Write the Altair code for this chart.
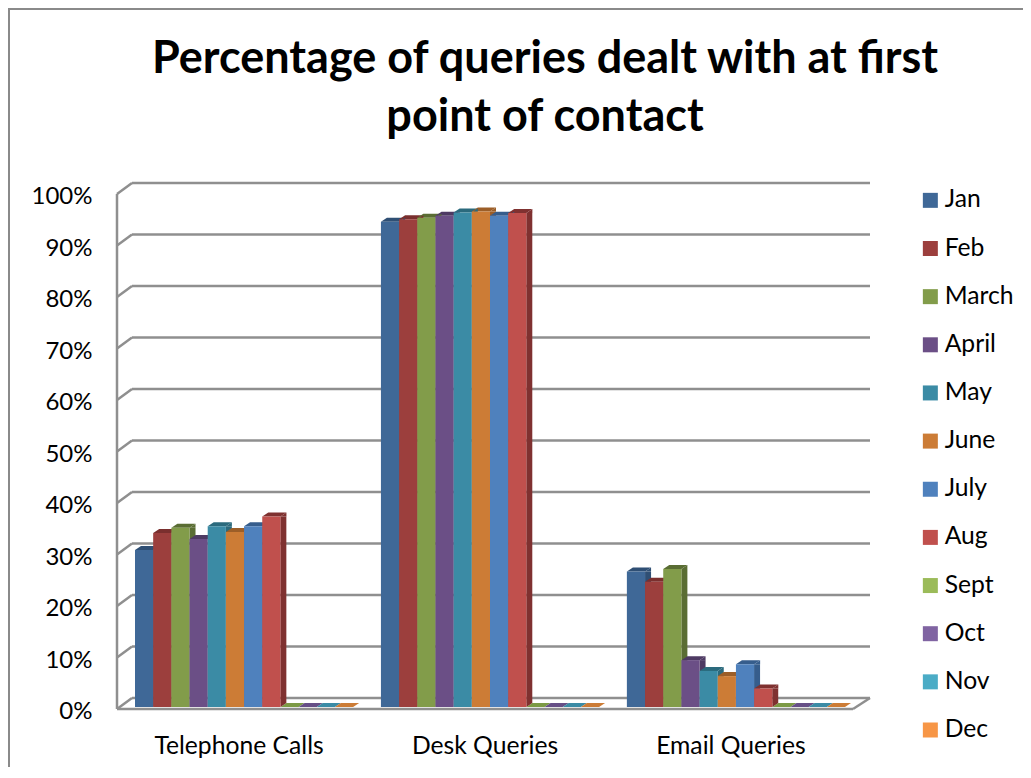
import altair as alt
import pandas as pd

categories = ["Telephone Calls", "Desk Queries", "Email Queries"]
months = ["Jan", "Feb", "March", "April", "May", "June", "July", "Aug", "Sept", "Oct", "Nov", "Dec"]
telephone = [0.305, 0.338, 0.348, 0.326, 0.351, 0.340, 0.351, 0.370, 0, 0, 0, 0]
desk = [0.942, 0.947, 0.950, 0.954, 0.960, 0.962, 0.954, 0.959, 0, 0, 0, 0]
email = [0.263, 0.243, 0.268, 0.091, 0.070, 0.060, 0.083, 0.036, 0, 0, 0, 0]
front_colors = ["#3f6897", "#9c3f3d", "#829c4a", "#6b4f86", "#3b8ba5", "#cc7c36",
                "#4f81bd", "#c0504d", "#9bbb59", "#8064a2", "#4bacc6", "#f79646"]
dark_colors = ["#2f4f74", "#7a2f2e", "#5a6d33", "#4e3a63", "#2b6a7d", "#9c5e28",
               "#365d8c", "#7f3130", "#7c9a45", "#664f86", "#3b8ba5", "#cc7c36"]
ticks = [i / 10 for i in range(11)]

rows = []
for cat, series in zip(categories, [telephone, desk, email]):
    for m, v in zip(months, series):
        rows.append({"category": cat, "month": m, "value": v, "zero": 0.0})
df = pd.DataFrame(rows)
tick_df = pd.DataFrame({"t": ticks})
floor_df = pd.DataFrame({"t": [0.0]})
wall_df = pd.DataFrame({"t": [1.0], "b": [0.0]})

GRID = "#8f8f8f"
FONT = "Lato"
W, H = 746, 515

yscale = alt.Scale(domain=[0, 1], nice=False)
yaxis = alt.Axis(format=".0%", values=ticks, grid=False, domain=False, ticks=False,
                 labelFontSize=24, labelFont=FONT, labelColor="#000000",
                 labelPadding=25, labelOffset=4.5)
y_plain = alt.Y("t:Q", scale=yscale, axis=yaxis, title=None)
x = alt.X("category:N", sort=categories, title=None,
          scale=alt.Scale(paddingInner=0.1131, paddingOuter=0.0732),
          axis=alt.Axis(labelAngle=0, domain=False, ticks=False, labelFontSize=24.7, labelFont=FONT,
                        labelColor="#000000", labelPadding=26, labelOffset=-5))
xo = alt.XOffset("month:N", scale=alt.Scale(type="band", domain=months, paddingInner=0, paddingOuter=0))
xo_side = alt.XOffset("month:N",
                      scale=alt.Scale(type="band", domain=months, paddingInner=0, paddingOuter=0, range=[12.1, 230.1]))
y = alt.Y("value:Q", scale=yscale, title=None, axis=yaxis)
c_dark = alt.Color("month:N", legend=None,
                   scale=alt.Scale(domain=months, range=dark_colors))
c_front = alt.Color("month:N", title=None,
                    scale=alt.Scale(domain=months, range=front_colors),
                    legend=alt.Legend(orient="none", legendX=801, legendY=-4, symbolType="square",
                                      symbolSize=225, symbolStrokeWidth=0, labelFontSize=24.7,
                                      labelFont=FONT, labelColor="#000000", labelOffset=2,
                                      rowPadding=22.15, padding=0))

back = alt.Chart(tick_df).mark_rule(color=GRID, strokeWidth=2.5, yOffset=-9).encode(
    y=y_plain, x=alt.value(15), x2=alt.value(753))
diag = alt.Chart(tick_df).mark_rule(color=GRID, strokeWidth=2.5, yOffset=2, y2Offset=-9).encode(
    y=y_plain, y2=alt.Y2("t:Q"), x=alt.value(0), x2=alt.value(15))
floor = alt.Chart(floor_df).mark_rule(color=GRID, strokeWidth=2.5, yOffset=2).encode(
    y=y_plain, x=alt.value(0), x2=alt.value(736))
floor_r = alt.Chart(floor_df).mark_rule(color=GRID, strokeWidth=2.5, yOffset=2, y2Offset=-9).encode(
    y=y_plain, y2=alt.Y2("t:Q"), x=alt.value(736), x2=alt.value(753))
wall = alt.Chart(wall_df).mark_rule(color=GRID, strokeWidth=2.5, yOffset=2, y2Offset=2).encode(
    y=y_plain, y2=alt.Y2("b:Q"), x=alt.value(0))
frame_t = alt.Chart(floor_df).mark_rule(color="#8a8a8a", strokeWidth=2).encode(
    y=alt.value(-183), x=alt.value(-109), x2=alt.value(906))
frame_l = alt.Chart(floor_df).mark_rule(color="#8a8a8a", strokeWidth=2).encode(
    x=alt.value(-108), y=alt.value(-184), y2=alt.value(590))

nonzero = df[df["value"] > 0]
side = alt.Chart(nonzero).mark_bar(width=6, y2Offset=-4).encode(
    x=x, xOffset=xo_side, y=y, y2=alt.Y2("zero:Q"), color=c_dark)
pt = dict(filled=True, size=4, opacity=1, strokeWidth=0)
cap = alt.Chart(df).mark_point(shape="M-9.08,0 L-3.08,-4 L15.08,-4 L9.08,0 Z", **pt).encode(
    x=x, xOffset=xo, y=y, color=c_dark)
cap_t = alt.Chart(nonzero).mark_point(shape="M9.08,0 L15.08,-4 L15.08,0 Z", **pt).encode(
    x=x, xOffset=xo, y=y, color=c_dark)
base_t = alt.Chart(nonzero).mark_point(shape="M9.08,0 L15.08,-4 L9.08,-4 Z", **pt).encode(
    x=x, xOffset=xo, y=alt.Y("zero:Q", scale=yscale, title=None, axis=yaxis), color=c_dark)
front = alt.Chart(df).mark_bar().encode(x=x, xOffset=xo, y=y, color=c_front)

chart = alt.layer(frame_t, frame_l, back, diag, floor, floor_r, wall, side, cap, cap_t, base_t, front).resolve_scale(
    color="independent", xOffset="independent"
).properties(
    width=W, height=H,
    padding={"left": 109, "top": 184, "right": 160, "bottom": 60},
    autosize=alt.AutoSizeParams(type="none"),
    background="#ffffff",
    title=alt.TitleParams(
        ["Percentage of queries dealt with at first", "point of contact"],
        fontSize=45, font=FONT, fontWeight="bold", color="#000000", lineHeight=58,
        anchor="middle", dx=55, dy=133, offset=0, frame="group"),
).configure_view(stroke=None)

chart.save("out.html", embed_options={"renderer": "svg", "actions": False})
